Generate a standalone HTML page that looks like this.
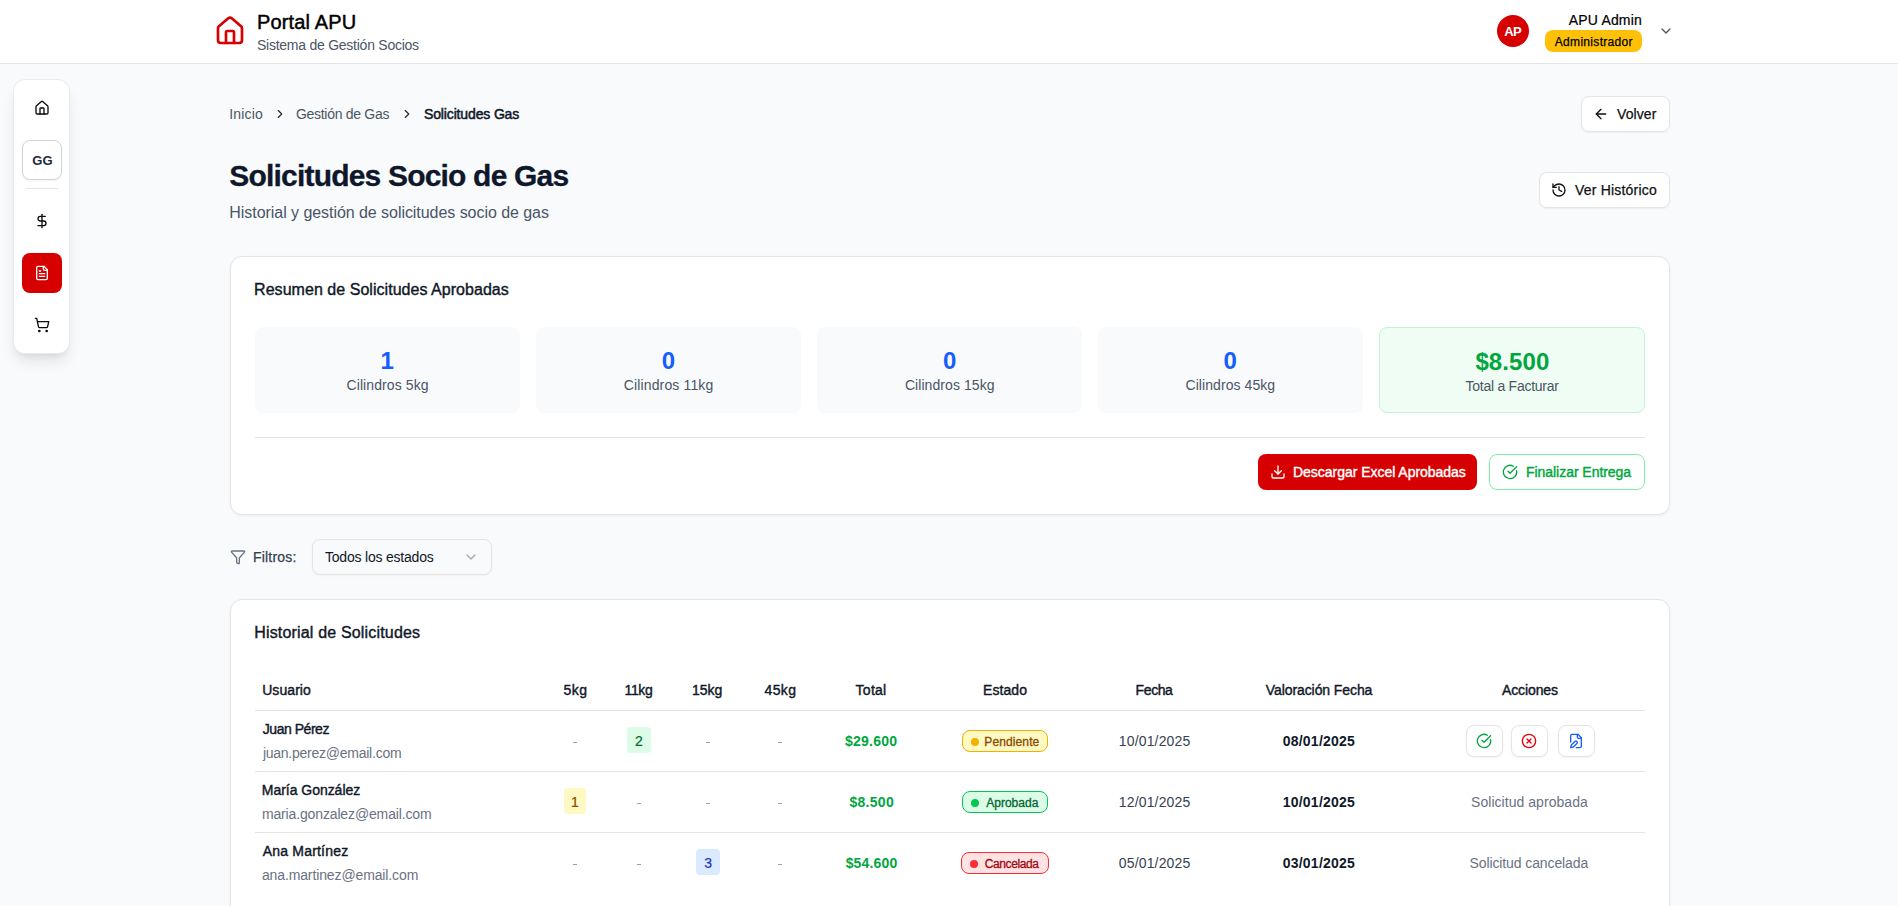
<!DOCTYPE html>
<html lang="es"><head><meta charset="utf-8"><title>Solicitudes Socio de Gas - Portal APU</title>
<style>
html,body{margin:0;padding:0;}
body{width:1898px;height:906px;overflow:hidden;background:#f8fafc;font-family:"Liberation Sans", sans-serif;position:relative;}
.t{position:absolute;white-space:nowrap;}
.b{position:absolute;}
.i{position:absolute;display:block;}
</style></head><body>
<div class="b" style="left:0px;top:0px;width:1898px;height:63px;background:#fff;border-bottom:1px solid #e5e5e5;"></div>
<svg class="i" style="left:214px;top:15px;" width="32" height="32" viewBox="0 0 24 24" fill="none" stroke="#d60000" stroke-width="2" stroke-linecap="round" stroke-linejoin="round"><path d="M15 21v-8a1 1 0 0 0-1-1h-4a1 1 0 0 0-1 1v8"/><path d="M3 10a2 2 0 0 1 .709-1.528l7-5.999a2 2 0 0 1 2.582 0l7 5.999A2 2 0 0 1 21 10v9a2 2 0 0 1-2 2H5a2 2 0 0 1-2-2z"/></svg>
<div class="t" style="left:256.90px;top:7.37px;font-size:20px;line-height:30px;color:#000;letter-spacing:0.156px;-webkit-text-stroke:0.45px #000;">Portal APU</div>
<div class="t" style="left:257.00px;top:34.75px;font-size:14px;line-height:21px;color:#4a5565;letter-spacing:-0.25px;">Sistema de Gestión Socios</div>
<div class="b" style="left:1497px;top:15px;width:32px;height:32px;background:#d60000;border-radius:50%;"></div>
<div class="t" style="left:1504.20px;top:21.59px;font-size:13px;line-height:20px;font-weight:700;color:#fff;letter-spacing:-0.6px;">AP</div>
<div class="t" style="left:1568.80px;top:9.95px;font-size:14px;line-height:21px;color:#000;letter-spacing:0.175px;-webkit-text-stroke:0.2px #000;">APU Admin</div>
<div class="b" style="left:1545px;top:30px;width:97px;height:22px;background:#ffc107;border-radius:8px;"></div>
<div class="t" style="left:1554.80px;top:32.94px;font-size:12px;line-height:18px;color:#000;letter-spacing:0.308px;-webkit-text-stroke:0.25px #000;">Administrador</div>
<svg class="i" style="left:1658px;top:23px;" width="16" height="16" viewBox="0 0 24 24" fill="none" stroke="#4a5565" stroke-width="2" stroke-linecap="round" stroke-linejoin="round"><path d="m6 9 6 6 6-6"/></svg>
<div class="b" style="left:13px;top:79.2px;width:57.2px;height:274.4px;background:#fff;border:1px solid #e9ebef;border-radius:12px;box-shadow:0 10px 15px -3px rgba(0,0,0,0.1),0 4px 6px -4px rgba(0,0,0,0.1);box-sizing:border-box;"></div>
<svg class="i" style="left:34px;top:100px;" width="16" height="16" viewBox="0 0 24 24" fill="none" stroke="#0a0a0a" stroke-width="2" stroke-linecap="round" stroke-linejoin="round"><path d="M15 21v-8a1 1 0 0 0-1-1h-4a1 1 0 0 0-1 1v8"/><path d="M3 10a2 2 0 0 1 .709-1.528l7-5.999a2 2 0 0 1 2.582 0l7 5.999A2 2 0 0 1 21 10v9a2 2 0 0 1-2 2H5a2 2 0 0 1-2-2z"/></svg>
<div class="b" style="left:22px;top:140px;width:40px;height:40px;background:#fff;border:1px solid #d1d5db;border-radius:8px;box-sizing:border-box;box-shadow:0 1px 2px rgba(0,0,0,0.06);"></div>
<div class="t" style="left:32.30px;top:150.59px;font-size:13px;line-height:20px;font-weight:700;color:#1e293b;">GG</div>
<div class="b" style="left:26px;top:188px;width:32px;height:1px;background:#e5e5e5;"></div>
<svg class="i" style="left:34px;top:213px;" width="16" height="16" viewBox="0 0 24 24" fill="none" stroke="#0a0a0a" stroke-width="2" stroke-linecap="round" stroke-linejoin="round"><line x1="12" x2="12" y1="2" y2="22"/><path d="M17 5H9.5a3.5 3.5 0 0 0 0 7h5a3.5 3.5 0 0 1 0 7H6"/></svg>
<div class="b" style="left:22px;top:253px;width:40px;height:40px;background:#d60000;border-radius:8px;"></div>
<svg class="i" style="left:34px;top:265px;" width="16" height="16" viewBox="0 0 24 24" fill="none" stroke="#fff" stroke-width="2" stroke-linecap="round" stroke-linejoin="round"><path d="M15 2H6a2 2 0 0 0-2 2v16a2 2 0 0 0 2 2h12a2 2 0 0 0 2-2V7Z"/><path d="M14 2v4a2 2 0 0 0 2 2h4"/><path d="M10 9H8"/><path d="M16 13H8"/><path d="M16 17H8"/></svg>
<svg class="i" style="left:34px;top:317px;" width="16" height="16" viewBox="0 0 24 24" fill="none" stroke="#0a0a0a" stroke-width="2" stroke-linecap="round" stroke-linejoin="round"><circle cx="8" cy="21" r="1"/><circle cx="19" cy="21" r="1"/><path d="M2.05 2.05h2l2.66 12.42a2 2 0 0 0 2 1.58h9.78a2 2 0 0 0 1.95-1.57l1.65-7.43H5.12"/></svg>
<div class="t" style="left:229.20px;top:104.35px;font-size:14px;line-height:21px;color:#4a5565;letter-spacing:0.2px;">Inicio</div>
<svg class="i" style="left:272.6px;top:107px;" width="14" height="14" viewBox="0 0 24 24" fill="none" stroke="#1e2939" stroke-width="2" stroke-linecap="round" stroke-linejoin="round"><path d="m9 18 6-6-6-6"/></svg>
<div class="t" style="left:295.90px;top:104.35px;font-size:14px;line-height:21px;color:#4a5565;letter-spacing:-0.285px;">Gestión de Gas</div>
<svg class="i" style="left:400px;top:107px;" width="14" height="14" viewBox="0 0 24 24" fill="none" stroke="#1e2939" stroke-width="2" stroke-linecap="round" stroke-linejoin="round"><path d="m9 18 6-6-6-6"/></svg>
<div class="t" style="left:424.00px;top:104.35px;font-size:14px;line-height:21px;color:#101828;letter-spacing:-0.143px;-webkit-text-stroke:0.5px #101828;">Solicitudes Gas</div>
<div class="b" style="left:1580.5px;top:96px;width:89px;height:36px;background:#fff;border:1px solid #e5e5e5;border-radius:8px;box-sizing:border-box;box-shadow:0 1px 2px rgba(0,0,0,0.05);"></div>
<svg class="i" style="left:1593px;top:106px;" width="16" height="16" viewBox="0 0 24 24" fill="none" stroke="#111" stroke-width="2" stroke-linecap="round" stroke-linejoin="round"><path d="m12 19-7-7 7-7"/><path d="M19 12H5"/></svg>
<div class="t" style="left:1617.00px;top:104.25px;font-size:14px;line-height:21px;color:#111;letter-spacing:0.1px;-webkit-text-stroke:0.25px #111;">Volver</div>
<div class="t" style="left:229.30px;top:153.30px;font-size:30px;line-height:45px;font-weight:700;color:#0f172a;letter-spacing:-0.809px;-webkit-text-stroke:0.3px #0f172a;">Solicitudes Socio de Gas</div>
<div class="t" style="left:229.30px;top:200.95px;font-size:16px;line-height:24px;color:#4a5565;letter-spacing:-0.05px;">Historial y gestión de solicitudes socio de gas</div>
<div class="b" style="left:1538.5px;top:172px;width:131px;height:36px;background:#fff;border:1px solid #e5e5e5;border-radius:8px;box-sizing:border-box;box-shadow:0 1px 2px rgba(0,0,0,0.05);"></div>
<svg class="i" style="left:1551px;top:182px;" width="16" height="16" viewBox="0 0 24 24" fill="none" stroke="#111" stroke-width="2" stroke-linecap="round" stroke-linejoin="round"><path d="M3 12a9 9 0 1 0 9-9 9.75 9.75 0 0 0-6.74 2.74L3 8"/><path d="M3 3v5h5"/><path d="M12 7v5l4 2"/></svg>
<div class="t" style="left:1575.00px;top:180.05px;font-size:14px;line-height:21px;color:#111;letter-spacing:0.192px;-webkit-text-stroke:0.25px #111;">Ver Histórico</div>
<div class="b" style="left:230px;top:256px;width:1440px;height:259px;background:#fff;border:1px solid #e5e5e5;border-radius:12px;box-sizing:border-box;box-shadow:0 1px 3px rgba(0,0,0,0.06);"></div>
<div class="t" style="left:254.10px;top:278.15px;font-size:16px;line-height:24px;color:#101828;letter-spacing:0.039px;-webkit-text-stroke:0.4px #101828;">Resumen de Solicitudes Aprobadas</div>
<div class="b" style="left:255px;top:327px;width:265px;height:86px;background:#f8fafc;border-radius:8px;"></div>
<div class="t" style="left:380.50px;top:342.78px;font-size:24px;line-height:36px;font-weight:700;color:#155dfc;">1</div>
<div class="t" style="left:346.50px;top:374.95px;font-size:14px;line-height:21px;color:#4a5565;letter-spacing:0.092px;">Cilindros 5kg</div>
<div class="b" style="left:536.2px;top:327px;width:265px;height:86px;background:#f8fafc;border-radius:8px;"></div>
<div class="t" style="left:661.70px;top:342.78px;font-size:24px;line-height:36px;font-weight:700;color:#155dfc;">0</div>
<div class="t" style="left:623.70px;top:374.95px;font-size:14px;line-height:21px;color:#4a5565;letter-spacing:0.146px;">Cilindros 11kg</div>
<div class="b" style="left:817.4px;top:327px;width:265px;height:86px;background:#f8fafc;border-radius:8px;"></div>
<div class="t" style="left:942.90px;top:342.78px;font-size:24px;line-height:36px;font-weight:700;color:#155dfc;">0</div>
<div class="t" style="left:904.90px;top:374.95px;font-size:14px;line-height:21px;color:#4a5565;letter-spacing:0.069px;">Cilindros 15kg</div>
<div class="b" style="left:1098px;top:327px;width:265px;height:86px;background:#f8fafc;border-radius:8px;"></div>
<div class="t" style="left:1223.50px;top:342.78px;font-size:24px;line-height:36px;font-weight:700;color:#155dfc;">0</div>
<div class="t" style="left:1185.50px;top:374.95px;font-size:14px;line-height:21px;color:#4a5565;letter-spacing:0.069px;">Cilindros 45kg</div>
<div class="b" style="left:1379px;top:327px;width:266px;height:86px;background:#f0fdf4;border:1px solid #b9f8cf;border-radius:8px;box-sizing:border-box;"></div>
<div class="t" style="left:1475.40px;top:343.88px;font-size:24px;line-height:36px;font-weight:700;color:#00a63e;letter-spacing:0.12px;">$8.500</div>
<div class="t" style="left:1465.50px;top:375.85px;font-size:14px;line-height:21px;color:#4a5565;letter-spacing:-0.253px;">Total a Facturar</div>
<div class="b" style="left:255px;top:437px;width:1390px;height:1px;background:#e5e5e5;"></div>
<div class="b" style="left:1258px;top:454px;width:219px;height:36px;background:#d60000;border-radius:8px;"></div>
<svg class="i" style="left:1270px;top:464px;" width="16" height="16" viewBox="0 0 24 24" fill="none" stroke="#fff" stroke-width="2" stroke-linecap="round" stroke-linejoin="round"><path d="M21 15v4a2 2 0 0 1-2 2H5a2 2 0 0 1-2-2v-4"/><polyline points="7 10 12 15 17 10"/><line x1="12" x2="12" y1="15" y2="3"/></svg>
<div class="t" style="left:1293.00px;top:462.35px;font-size:14px;line-height:21px;color:#fff;letter-spacing:-0.029px;-webkit-text-stroke:0.4px #fff;">Descargar Excel Aprobadas</div>
<div class="b" style="left:1489px;top:454px;width:156px;height:36px;background:#fff;border:1px solid #7bf1a8;border-radius:8px;box-sizing:border-box;"></div>
<svg class="i" style="left:1502px;top:464px;" width="16" height="16" viewBox="0 0 24 24" fill="none" stroke="#00a63e" stroke-width="2" stroke-linecap="round" stroke-linejoin="round"><path d="M21.801 10A10 10 0 1 1 17 3.335"/><path d="m9 11 3 3L22 4"/></svg>
<div class="t" style="left:1526.00px;top:462.35px;font-size:14px;line-height:21px;color:#00a63e;letter-spacing:-0.044px;-webkit-text-stroke:0.4px #00a63e;">Finalizar Entrega</div>
<svg class="i" style="left:230px;top:549px;" width="16" height="16" viewBox="0 0 24 24" fill="none" stroke="#6a7282" stroke-width="2" stroke-linecap="round" stroke-linejoin="round"><path d="M10 20a1 1 0 0 0 .553.895l2 1A1 1 0 0 0 14 21v-7a2 2 0 0 1 .517-1.341L21.74 4.67A1 1 0 0 0 21 3H3a1 1 0 0 0-.742 1.67l7.225 7.989A2 2 0 0 1 10 14z"/></svg>
<div class="t" style="left:253.00px;top:546.95px;font-size:14px;line-height:21px;color:#364153;letter-spacing:0.186px;-webkit-text-stroke:0.25px #364153;">Filtros:</div>
<div class="b" style="left:312px;top:539px;width:179.5px;height:35.5px;background:#f9fafb;border:1px solid #e5e5e5;border-radius:8px;box-sizing:border-box;box-shadow:0 1px 2px rgba(0,0,0,0.04);"></div>
<div class="t" style="left:325.00px;top:546.95px;font-size:14px;line-height:21px;color:#101828;letter-spacing:-0.206px;">Todos los estados</div>
<svg class="i" style="left:463px;top:549px;opacity:0.6;" width="16" height="16" viewBox="0 0 24 24" fill="none" stroke="#6a7282" stroke-width="2" stroke-linecap="round" stroke-linejoin="round"><path d="m6 9 6 6 6-6"/></svg>
<div class="b" style="left:230px;top:599px;width:1440px;height:400px;background:#fff;border:1px solid #e5e5e5;border-radius:12px;box-sizing:border-box;box-shadow:0 1px 3px rgba(0,0,0,0.06);"></div>
<div class="t" style="left:254.20px;top:621.45px;font-size:16px;line-height:24px;color:#101828;letter-spacing:0.174px;-webkit-text-stroke:0.4px #101828;">Historial de Solicitudes</div>
<div class="t" style="left:262.20px;top:680.35px;font-size:14px;line-height:21px;color:#101828;letter-spacing:0.067px;-webkit-text-stroke:0.4px #101828;">Usuario</div>
<div class="t" style="left:563.60px;top:680.35px;font-size:14px;line-height:21px;color:#101828;letter-spacing:0.4px;-webkit-text-stroke:0.4px #101828;">5kg</div>
<div class="t" style="left:624.60px;top:680.35px;font-size:14px;line-height:21px;color:#101828;letter-spacing:-0.4px;-webkit-text-stroke:0.4px #101828;">11kg</div>
<div class="t" style="left:692.00px;top:680.35px;font-size:14px;line-height:21px;color:#101828;-webkit-text-stroke:0.4px #101828;">15kg</div>
<div class="t" style="left:764.60px;top:680.35px;font-size:14px;line-height:21px;color:#101828;letter-spacing:0.333px;-webkit-text-stroke:0.4px #101828;">45kg</div>
<div class="t" style="left:855.60px;top:680.35px;font-size:14px;line-height:21px;color:#101828;letter-spacing:0.25px;-webkit-text-stroke:0.4px #101828;">Total</div>
<div class="t" style="left:983.10px;top:680.35px;font-size:14px;line-height:21px;color:#101828;letter-spacing:0.06px;-webkit-text-stroke:0.4px #101828;">Estado</div>
<div class="t" style="left:1135.60px;top:680.35px;font-size:14px;line-height:21px;color:#101828;letter-spacing:-0.4px;-webkit-text-stroke:0.4px #101828;">Fecha</div>
<div class="t" style="left:1265.80px;top:680.35px;font-size:14px;line-height:21px;color:#101828;letter-spacing:-0.087px;-webkit-text-stroke:0.4px #101828;">Valoración Fecha</div>
<div class="t" style="left:1502.00px;top:680.35px;font-size:14px;line-height:21px;color:#101828;letter-spacing:-0.114px;-webkit-text-stroke:0.4px #101828;">Acciones</div>
<div class="b" style="left:255px;top:710px;width:1390px;height:1px;background:#e5e5e5;"></div>
<div class="b" style="left:255px;top:771px;width:1390px;height:1px;background:#e5e5e5;"></div>
<div class="b" style="left:255px;top:832px;width:1390px;height:1px;background:#e5e5e5;"></div>
<div class="t" style="left:262.80px;top:718.85px;font-size:14px;line-height:21px;color:#101828;letter-spacing:-0.467px;-webkit-text-stroke:0.4px #101828;">Juan Pérez</div>
<div class="t" style="left:262.90px;top:742.75px;font-size:14px;line-height:21px;color:#6a7282;letter-spacing:-0.247px;">juan.perez@email.com</div>
<div class="b" style="left:573px;top:742px;width:4px;height:1px;background:#99a1af;"></div>
<div class="b" style="left:627.2px;top:727px;width:23.6px;height:26.3px;background:#dcfce7;border-radius:4px;"></div>
<div class="t" style="left:635.00px;top:731.15px;font-size:14px;line-height:21px;color:#016630;-webkit-text-stroke:0.2px #016630;">2</div>
<div class="b" style="left:705.8px;top:742px;width:4px;height:1px;background:#99a1af;"></div>
<div class="b" style="left:778px;top:742px;width:4px;height:1px;background:#99a1af;"></div>
<div class="t" style="left:845.00px;top:730.95px;font-size:14px;line-height:21px;font-weight:700;color:#00a63e;letter-spacing:0.233px;">$29.600</div>
<div class="b" style="left:962px;top:730.2px;width:85.6px;height:21.6px;background:#fef9c2;border:1px solid #f0b100;border-radius:8px;box-sizing:border-box;"></div>
<div class="b" style="left:971px;top:737.7px;width:8px;height:8px;background:#f0b100;border-radius:50%;"></div>
<div class="t" style="left:984.30px;top:733.44px;font-size:12px;line-height:18px;color:#894b00;letter-spacing:0.113px;-webkit-text-stroke:0.3px #894b00;">Pendiente</div>
<div class="t" style="left:1118.80px;top:731.15px;font-size:14px;line-height:21px;color:#364153;letter-spacing:0.156px;">10/01/2025</div>
<div class="t" style="left:1282.70px;top:731.15px;font-size:14px;line-height:21px;font-weight:700;color:#101828;letter-spacing:0.233px;">08/01/2025</div>
<div class="b" style="left:1465.5px;top:725px;width:37px;height:32px;background:#fff;border:1px solid #e5e5e5;border-radius:8px;box-sizing:border-box;box-shadow:0 1px 2px rgba(0,0,0,0.05);"></div>
<svg class="i" style="left:1475.5px;top:733px;" width="16" height="16" viewBox="0 0 24 24" fill="none" stroke="#00a63e" stroke-width="2" stroke-linecap="round" stroke-linejoin="round"><path d="M21.801 10A10 10 0 1 1 17 3.335"/><path d="m9 11 3 3L22 4"/></svg>
<div class="b" style="left:1511px;top:725px;width:37px;height:32px;background:#fff;border:1px solid #e5e5e5;border-radius:8px;box-sizing:border-box;box-shadow:0 1px 2px rgba(0,0,0,0.05);"></div>
<svg class="i" style="left:1521px;top:733px;" width="16" height="16" viewBox="0 0 24 24" fill="none" stroke="#e7000b" stroke-width="2" stroke-linecap="round" stroke-linejoin="round"><circle cx="12" cy="12" r="10"/><path d="m15 9-6 6"/><path d="m9 9 6 6"/></svg>
<div class="b" style="left:1557.5px;top:725px;width:37px;height:32px;background:#fff;border:1px solid #e5e5e5;border-radius:8px;box-sizing:border-box;box-shadow:0 1px 2px rgba(0,0,0,0.05);"></div>
<svg class="i" style="left:1567.5px;top:733px;" width="16" height="16" viewBox="0 0 24 24" fill="none" stroke="#155dfc" stroke-width="2" stroke-linecap="round" stroke-linejoin="round"><path d="M12.5 22H18a2 2 0 0 0 2-2V7l-5-5H6a2 2 0 0 0-2 2v9.5"/><path d="M14 2v4a2 2 0 0 0 2 2h4"/><path d="M13.378 15.626a1 1 0 1 0-3.004-3.004l-5.01 5.012a2 2 0 0 0-.506.854l-.837 2.87a.5.5 0 0 0 .62.62l2.87-.837a2 2 0 0 0 .854-.506z"/></svg>
<div class="t" style="left:261.80px;top:779.85px;font-size:14px;line-height:21px;color:#101828;letter-spacing:-0.031px;-webkit-text-stroke:0.4px #101828;">María González</div>
<div class="t" style="left:261.90px;top:803.75px;font-size:14px;line-height:21px;color:#6a7282;letter-spacing:-0.139px;">maria.gonzalez@email.com</div>
<div class="b" style="left:564.0px;top:788px;width:22px;height:26.3px;background:#fef9c2;border-radius:4px;"></div>
<div class="t" style="left:571.00px;top:792.15px;font-size:14px;line-height:21px;color:#894b00;-webkit-text-stroke:0.2px #894b00;">1</div>
<div class="b" style="left:637px;top:803px;width:4px;height:1px;background:#99a1af;"></div>
<div class="b" style="left:705.8px;top:803px;width:4px;height:1px;background:#99a1af;"></div>
<div class="b" style="left:778px;top:803px;width:4px;height:1px;background:#99a1af;"></div>
<div class="t" style="left:849.40px;top:791.95px;font-size:14px;line-height:21px;font-weight:700;color:#00a63e;letter-spacing:0.3px;">$8.500</div>
<div class="b" style="left:962px;top:791.2px;width:85.6px;height:21.6px;background:#dcfce7;border:1px solid #00c950;border-radius:8px;box-sizing:border-box;"></div>
<div class="b" style="left:971px;top:798.7px;width:8px;height:8px;background:#00c950;border-radius:50%;"></div>
<div class="t" style="left:986.20px;top:794.44px;font-size:12px;line-height:18px;color:#016630;letter-spacing:0.014px;-webkit-text-stroke:0.3px #016630;">Aprobada</div>
<div class="t" style="left:1118.80px;top:792.15px;font-size:14px;line-height:21px;color:#364153;letter-spacing:0.156px;">12/01/2025</div>
<div class="t" style="left:1282.70px;top:792.15px;font-size:14px;line-height:21px;font-weight:700;color:#101828;letter-spacing:0.233px;">10/01/2025</div>
<div class="t" style="left:1471.00px;top:792.15px;font-size:14px;line-height:21px;color:#6a7282;letter-spacing:0.047px;">Solicitud aprobada</div>
<div class="t" style="left:262.80px;top:840.85px;font-size:14px;line-height:21px;color:#101828;letter-spacing:0.191px;-webkit-text-stroke:0.4px #101828;">Ana Martínez</div>
<div class="t" style="left:261.90px;top:864.75px;font-size:14px;line-height:21px;color:#6a7282;letter-spacing:-0.119px;">ana.martinez@email.com</div>
<div class="b" style="left:573px;top:864px;width:4px;height:1px;background:#99a1af;"></div>
<div class="b" style="left:637px;top:864px;width:4px;height:1px;background:#99a1af;"></div>
<div class="b" style="left:696.0px;top:849px;width:23.6px;height:26.3px;background:#dbeafe;border-radius:4px;"></div>
<div class="t" style="left:704.30px;top:853.15px;font-size:14px;line-height:21px;color:#193cb8;-webkit-text-stroke:0.2px #193cb8;">3</div>
<div class="b" style="left:778px;top:864px;width:4px;height:1px;background:#99a1af;"></div>
<div class="t" style="left:845.70px;top:852.95px;font-size:14px;line-height:21px;font-weight:700;color:#00a63e;letter-spacing:0.15px;">$54.600</div>
<div class="b" style="left:961px;top:852.2px;width:87.5px;height:21.6px;background:#ffe2e2;border:1px solid #fb2c36;border-radius:8px;box-sizing:border-box;"></div>
<div class="b" style="left:970.2px;top:859.7px;width:8px;height:8px;background:#fb2c36;border-radius:50%;"></div>
<div class="t" style="left:984.80px;top:855.44px;font-size:12px;line-height:18px;color:#9f0712;letter-spacing:-0.412px;-webkit-text-stroke:0.3px #9f0712;">Cancelada</div>
<div class="t" style="left:1118.80px;top:853.15px;font-size:14px;line-height:21px;color:#364153;letter-spacing:0.156px;">05/01/2025</div>
<div class="t" style="left:1282.70px;top:853.15px;font-size:14px;line-height:21px;font-weight:700;color:#101828;letter-spacing:0.233px;">03/01/2025</div>
<div class="t" style="left:1469.50px;top:853.15px;font-size:14px;line-height:21px;color:#6a7282;letter-spacing:-0.106px;">Solicitud cancelada</div>
</body></html>
